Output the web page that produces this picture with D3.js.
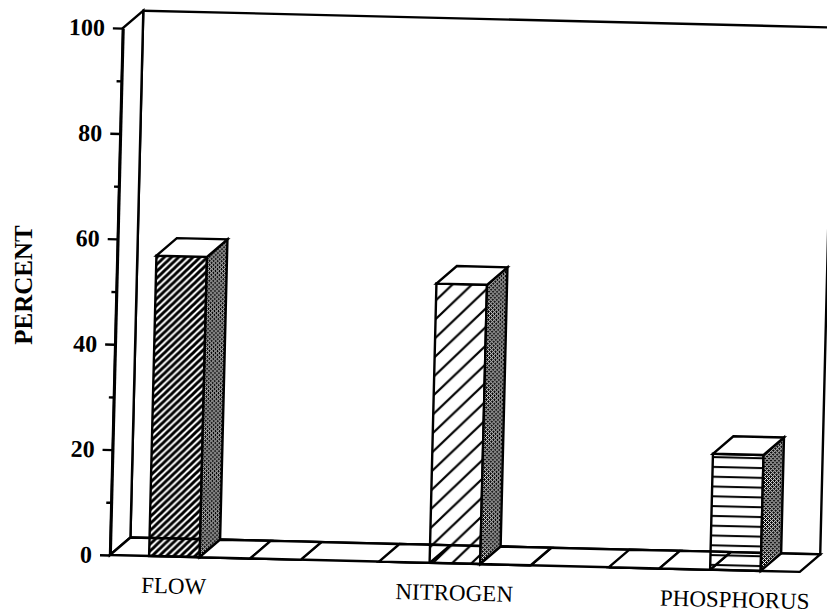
<!DOCTYPE html>
<html>
<head>
<meta charset="utf-8">
<script src="https://cdn.jsdelivr.net/npm/d3@7"></script>
<style>
body { margin: 0; background: #fff; }
svg text { font-family: "Liberation Serif", "Times New Roman", serif; fill: #000; }
</style>
</head>
<body>
<div id="chart"></div>
<script>
// values
var categories = ["FLOW", "NITROGEN", "PHOSPHORUS"];
var seriesNames = ["flow", "nitrogen", "phosphorus"];
var flowValues = [57, 0, 0];
var nitrogenValues = [0, 53, 0];
var phosphorusValues = [0, 0, 22];
var majorTicks = [0, 20, 40, 60, 80, 100];
var minorTicks = [10, 30, 50, 70, 90];

var seriesValues = [flowValues, nitrogenValues, phosphorusValues];

var width = 827, height = 613;
var floorW = 690, wallH = 527;
var dx = 20, dy = -18;   // depth offset of the 3d box

var svg = d3.select("#chart").append("svg")
    .attr("width", width)
    .attr("height", height);

svg.append("rect").attr("width", width).attr("height", height).attr("fill", "#fff");

var defs = svg.append("defs");

function hatch(id, s, sw) {
    defs.append("pattern")
        .attr("id", id)
        .attr("patternUnits", "userSpaceOnUse")
        .attr("width", s).attr("height", s)
        .append("path")
        .attr("d", "M0," + s + " l" + s + "," + (-s) +
            " M" + (-s / 4) + "," + (s / 4) + " l" + (s / 2) + "," + (-s / 2) +
            " M" + (3 * s / 4) + "," + (5 * s / 4) + " l" + (s / 2) + "," + (-s / 2))
        .attr("stroke", "#000")
        .attr("stroke-width", sw);
}
hatch("hatchDense", 7, 3);
hatch("hatchWide", 19, 2.2);

var hp = defs.append("pattern")
    .attr("id", "horizLines")
    .attr("patternUnits", "userSpaceOnUse")
    .attr("width", 10).attr("height", 9.8);
hp.append("path").attr("d", "M0,5 H10").attr("stroke", "#000").attr("stroke-width", 2);

var st = defs.append("pattern")
    .attr("id", "stipple")
    .attr("patternUnits", "userSpaceOnUse")
    .attr("width", 4).attr("height", 4);
st.append("rect").attr("width", 4).attr("height", 4).attr("fill", "#fff");
[[0,0],[2,0],[1,1],[2,1],[3,1],[0,2],[2,2],[0,3],[1,3],[3,3]].forEach(function(p) {
    st.append("rect").attr("x", p[0]).attr("y", p[1]).attr("width", 1).attr("height", 1).attr("fill", "#000");
});

var fronts = ["url(#hatchDense)", "url(#hatchWide)", "url(#horizLines)"];

// whole drawing is slightly tilted, like the scan
var g = svg.append("g")
    .attr("transform", "translate(110,555) rotate(1.4)");

var y = d3.scaleLinear().domain([0, 100]).range([0, -wallH]);

var x0 = d3.scaleBand()
    .domain(categories)
    .range([0, floorW])
    .paddingInner(0.34)
    .paddingOuter(0.17);

var x1 = d3.scaleBand()
    .domain(seriesNames)
    .range([0, x0.bandwidth()]);

var line = d3.line();
function poly(pts) { return line(pts) + "Z"; }

var wallTop = y(100);

// back wall
g.append("path")
    .attr("d", poly([[dx, dy], [dx, wallTop + dy], [floorW + dx, wallTop + dy], [floorW + dx, dy]]))
    .attr("fill", "#fff").attr("stroke", "#000").attr("stroke-width", 2.4);

// left wall
g.append("path")
    .attr("d", poly([[0, 0], [0, wallTop], [dx, wallTop + dy], [dx, dy]]))
    .attr("fill", "#fff").attr("stroke", "#000").attr("stroke-width", 2.4);

// floor
g.append("path")
    .attr("d", poly([[0, 0], [floorW, 0], [floorW + dx, dy], [dx, dy]]))
    .attr("fill", "#fff").attr("stroke", "#000").attr("stroke-width", 2.4);

// bars, left to right
var bars = [];
categories.forEach(function(c, i) {
    seriesNames.forEach(function(s, j) {
        bars.push({ cat: c, ser: s, j: j, value: seriesValues[j][i] });
    });
});

var bg = g.selectAll("g.bar")
    .data(bars)
    .enter().append("g")
    .attr("class", "bar");

bg.each(function(d) {
    var sel = d3.select(this);
    var bx = x0(d.cat) + x1(d.ser), w = x1.bandwidth(), h = y(d.value);
    sel.append("path")
        .attr("d", poly([[bx, 0], [bx + w, 0], [bx + w, h], [bx, h]]))
        .attr("fill", fronts[d.j]).attr("stroke", "#000").attr("stroke-width", 2.4);
    sel.append("path")
        .attr("d", poly([[bx + w, 0], [bx + w + dx, dy], [bx + w + dx, h + dy], [bx + w, h]]))
        .attr("fill", "url(#stipple)").attr("stroke", "#000").attr("stroke-width", 2.4);
    sel.append("path")
        .attr("d", poly([[bx, h], [bx + w, h], [bx + w + dx, h + dy], [bx + dx, h + dy]]))
        .attr("fill", "#fff").attr("stroke", "#000").attr("stroke-width", 2.4);
});

// front axis
var ax = g.append("g")
    .call(d3.axisLeft(y).tickValues(majorTicks).tickSize(10).tickPadding(8).tickSizeOuter(0))
    .attr("font-family", "Liberation Serif, serif")
    .attr("font-size", 24)
    .attr("font-weight", "bold");
ax.select(".domain").attr("stroke-width", 2.8);
ax.selectAll(".tick line").attr("stroke-width", 2.4);
ax.selectAll(".tick text").attr("fill", "#000");

var mx = g.append("g")
    .call(d3.axisLeft(y).tickValues(minorTicks).tickSize(5).tickFormat(""));
mx.select(".domain").remove();
mx.selectAll(".tick line").attr("stroke-width", 2.4);

// category labels under the bars
g.selectAll("text.cat")
    .data(categories)
    .enter().append("text")
    .attr("class", "cat")
    .attr("x", function(d, i) { return x0(d) + x1(seriesNames[i]) + x1.bandwidth() / 2; })
    .attr("y", 37)
    .attr("text-anchor", "middle")
    .attr("font-size", 23)
    .text(function(d) { return d; });

svg.append("text")
    .attr("transform", "translate(32,285) rotate(-90)")
    .attr("text-anchor", "middle")
    .attr("font-size", 25)
    .attr("font-weight", "bold")
    .text("PERCENT");
</script>
</body>
</html>
